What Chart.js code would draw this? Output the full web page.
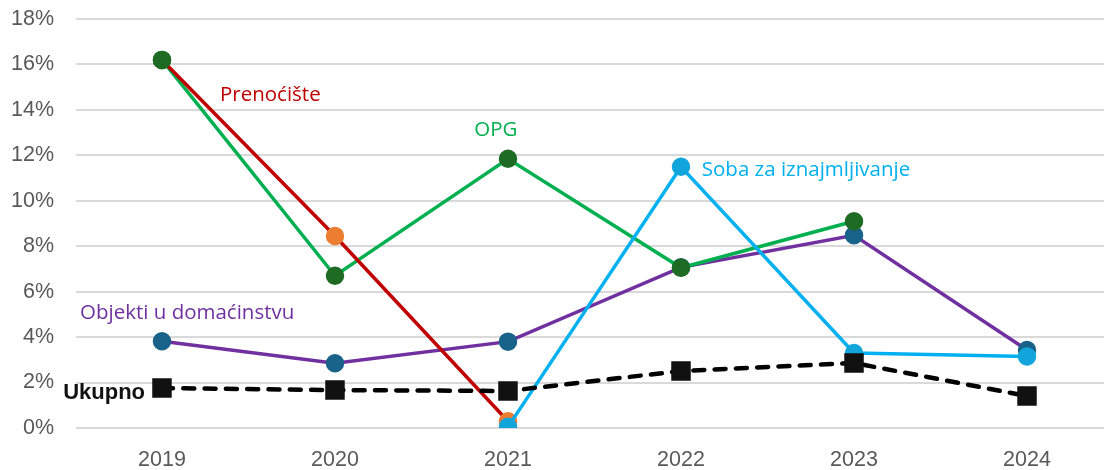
<!DOCTYPE html>
<html>
<head>
<meta charset="utf-8">
<script src="https://cdn.jsdelivr.net/npm/chart.js@4.4.1/dist/chart.umd.min.js"></script>
<style>
html,body{margin:0;padding:0;background:#fff;overflow:hidden;}
#c{display:block;}
</style>
</head>
<body>
<canvas id="c" width="1104" height="470" style="width:1104px;height:470px"></canvas>
<script>
const years = ['2019','2020','2021','2022','2023','2024'];
const prenociste = [16.2, 8.45, 0.3, null, null, null];
const opg = [16.2, 6.7, 11.85, 7.05, 9.1, null];
const soba = [null, null, 0.05, 11.5, 3.3, 3.15];
const objekti = [3.82, 2.85, 3.8, 7.07, 8.48, 3.43];
const ukupno = [1.76, 1.67, 1.63, 2.51, 2.86, 1.41];
const yTicks = [0, 2, 4, 6, 8, 10, 12, 14, 16, 18];

const toPoints = arr => arr.map((v, i) => ({x: i, y: v}));

// label anchors in data space: x = category index, y = value
const seriesLabels = [
  {text: 'Prenoćište', x: 0.335, y: 14.66, color: '#C00000', align: 'left', font: '20.5px "Open Sans"'},
  {text: 'OPG', x: 1.93, y: 13.1, color: '#00B050', align: 'center', font: '20.5px "Open Sans"'},
  {text: 'Soba za iznajmljivanje', x: 3.12, y: 11.36, color: '#00B0F0', align: 'left', font: '20.5px "Open Sans"'},
  {text: 'Objekti u domaćinstvu', x: -0.474, y: 5.06, color: '#7030A0', align: 'left', font: '20.5px "Open Sans"'},
  {text: 'Ukupno', x: -0.098, y: 1.54, color: '#111111', align: 'right', font: 'bold 22px "Liberation Sans"'}
];

const labelPlugin = {
  id: 'seriesLabels',
  afterDatasetsDraw(chart) {
    const ctx = chart.ctx, xs = chart.scales.x, ys = chart.scales.y;
    ctx.save();
    ctx.textBaseline = 'middle';
    seriesLabels.forEach(l => {
      ctx.font = l.font;
      ctx.fillStyle = l.color;
      ctx.textAlign = l.align;
      ctx.fillText(l.text, xs.getPixelForValue(l.x), ys.getPixelForValue(l.y));
    });
    ctx.restore();
  }
};

new Chart(document.getElementById('c'), {
  type: 'line',
  data: {
    datasets: [
      {label: 'Soba za iznajmljivanje', data: toPoints(soba), borderColor: '#00B0F0',
       pointBackgroundColor: '#12A5DB', pointBorderColor: '#12A5DB', borderWidth: 3.5, pointRadius: 7.5, order: 1},
      {label: 'Prenoćište', data: toPoints(prenociste), borderColor: '#C00000',
       pointBackgroundColor: ['#1E6B24', '#ED7D31', '#ED7D31'], pointBorderColor: ['#1E6B24', '#ED7D31', '#ED7D31'],
       borderWidth: 3.5, pointRadius: 7.5, order: 2},
      {label: 'OPG', data: toPoints(opg), borderColor: '#00B050', pointBackgroundColor: '#1E6B24', pointBorderColor: '#1E6B24',
       borderWidth: 3.5, pointRadius: 7.5, order: 3},
      {label: 'Objekti u domaćinstvu', data: toPoints(objekti), borderColor: '#7030A0', pointBackgroundColor: '#19628A',
       pointBorderColor: '#19628A', borderWidth: 3.5, pointRadius: 7.5, order: 4},
      {label: 'Ukupno', data: toPoints(ukupno), borderColor: '#000000', borderDash: [11, 10.3], borderCapStyle: 'round',
       borderWidth: 4.5, pointStyle: 'rect', pointRadius: 10.6, pointBackgroundColor: '#111111', pointBorderColor: '#111111', order: 0}
    ]
  },
  options: {
    responsive: false,
    animation: false,
    spanGaps: false,
    layout: {padding: {top: 19, right: 0, bottom: 0, left: 0}, autoPadding: false},
    plugins: {legend: {display: false}, tooltip: {enabled: false}},
    elements: {line: {tension: 0}, point: {borderWidth: 0}},
    scales: {
      x: {
        type: 'linear',
        min: -0.497, max: 5.445,
        afterBuildTicks(s) { s.ticks = years.map((y, i) => ({value: i})); },
        grid: {display: false, drawTicks: false},
        border: {display: false},
        ticks: {color: '#595959', font: {family: '"Liberation Sans", Arial', size: 21.5}, padding: 19,
                callback: v => years[v]},
        afterFit(s) { s.height = 42; s.paddingLeft = 0; s.paddingRight = 0; }
      },
      y: {
        min: 0, max: 18,
        afterBuildTicks(s) { s.ticks = yTicks.map(v => ({value: v})); },
        grid: {color: '#D9D9D9', lineWidth: 2, drawTicks: false},
        border: {display: false},
        ticks: {color: '#595959', font: {family: '"Liberation Sans", Arial', size: 21.5}, padding: 22,
                callback: v => v + '%'},
        afterFit(s) { s.width = 76; s.paddingTop = 0; s.paddingBottom = 0; }
      }
    }
  },
  plugins: [labelPlugin]
});
</script>
</body>
</html>
